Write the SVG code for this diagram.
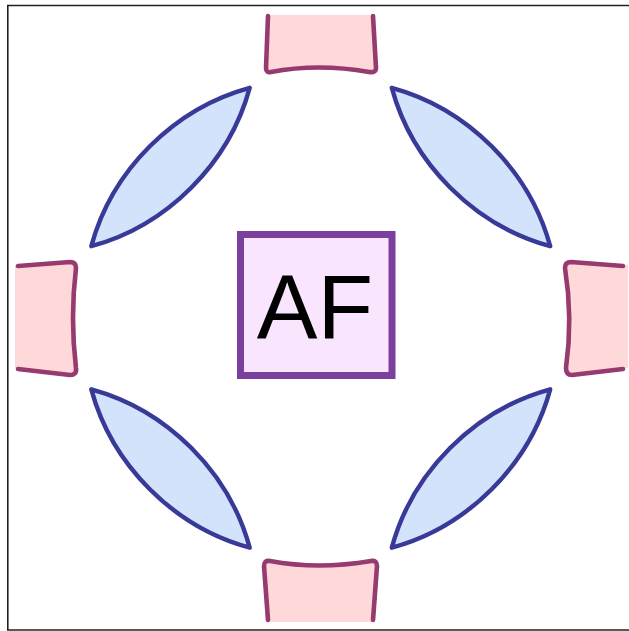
<svg xmlns="http://www.w3.org/2000/svg" width="629" height="631" viewBox="0 0 629 631">
<style>
.frame{fill:none;stroke:#222;stroke-width:1.6}
.pfill{fill:#ffd9da;stroke:none}
.pline{fill:none;stroke:#963a70;stroke-width:4.6;stroke-linecap:round;stroke-linejoin:round}
.lens{fill:#d3e3fc;stroke:#393a98;stroke-width:4.4;stroke-linejoin:round}
.box{fill:#f9e5fd;stroke:#7b3f9e;stroke-width:7}
.lbl{font-family:"Liberation Sans",Arial,sans-serif;font-size:91px;fill:#000;text-anchor:middle}
</style>
<defs>
<path id="lensShape" d="M-112,0 C-44,-39 44,-39 112,0 C44,39 -44,39 -112,0 Z"/>
</defs>
<rect x="0" y="0" width="629" height="631" fill="#fff"/>
<path class="frame" d="M640,5.5 L7.8,5.5 L7.8,630 L640,630"/>
<g id="pad-top">
<path class="pfill" d="M267,15 L265,68 Q265,73 271,72 Q318,63 369,72 Q376,73 376,68 L373,15 Z"/>
<path class="pline" d="M268,16 L266,68 Q266,73 271,72 Q318,63 369,72 Q376,73 376,68 L373,16"/>
</g>
<g id="pad-left">
<path class="pfill" d="M15,265 L70,262 Q76,262 76,268 Q70,318 76,368 Q77,375 70,375 L15,368 Z"/>
<path class="pline" d="M18,266 L70,262 Q76,262 76,268 Q70,318 76,368 Q77,375 70,375 L18,369"/>
</g>
<g id="pad-right">
<path class="pfill" d="M628,265 L571,262 Q565,262 565,268 Q573,318 566,368 Q566,375 572,375 L628,368 Z"/>
<path class="pline" d="M623,266 L571,262 Q565,262 565,268 Q573,318 566,368 Q566,375 572,375 L623,369"/>
</g>
<g id="pad-bottom">
<path class="pfill" d="M268,622 L264,566 Q264,560 270,561 Q318,570 371,561 Q377,560 377,566 L373,622 Z"/>
<path class="pline" d="M268,620 L264,566 Q264,560 270,561 Q318,570 371,561 Q377,560 377,566 L373,620"/>
</g>
<g id="lens-tl">
<use href="#lensShape" class="lens" transform="translate(170.5,167) rotate(-45)"/>
</g>
<g id="lens-tr">
<use href="#lensShape" class="lens" transform="translate(471,167) rotate(45)"/>
</g>
<g id="lens-bl">
<use href="#lensShape" class="lens" transform="translate(170.5,468.5) rotate(45)"/>
</g>
<g id="lens-br">
<use href="#lensShape" class="lens" transform="translate(471,468.5) rotate(-45)"/>
</g>
<g id="center">
<rect class="box" x="240.5" y="234.5" width="151.5" height="141"/>
<text class="lbl" x="315" y="338">AF</text>
</g>
<g id="connectors"></g>
</svg>
